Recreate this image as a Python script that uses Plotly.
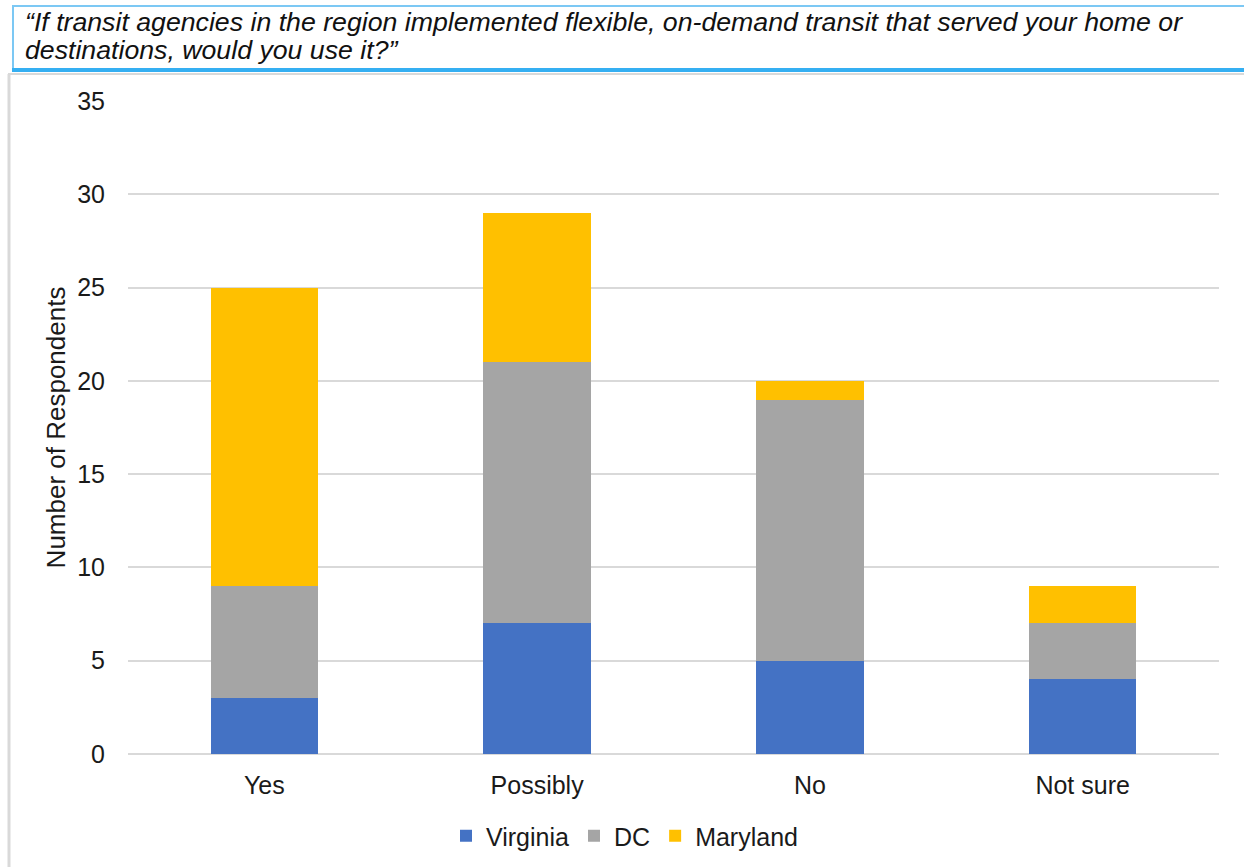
import plotly.graph_objects as go

# Survey responses by jurisdiction
categories = ["Yes", "Possibly", "No", "Not sure"]
virginia = [3, 7, 5, 4]
dc = [6, 14, 14, 3]
maryland = [16, 8, 1, 2]

series = [
    ("Virginia", virginia, "#4472C4"),
    ("DC", dc, "#A5A5A5"),
    ("Maryland", maryland, "#FFC000"),
]

question_lines = [
    "<i>“If transit agencies in the region implemented flexible, on-demand transit that served your home or</i>",
    "<i>destinations, would you use it?”</i>",
]

W, H = 1244, 867
L, R, T, B = 128, 25, 101, 113
PW, PH = W - L - R, H - T - B


def px(x):
    return (x - L) / PW


def py(y):
    return (H - B - y) / PH


fig = go.Figure()
for name, vals, color in series:
    fig.add_trace(go.Bar(name=name, x=categories, y=vals, marker_color=color,
                         marker_line_width=0))

FONT = "Liberation Sans, Arial, sans-serif"

fig.update_layout(
    width=W, height=H,
    margin=dict(l=L, r=R, t=T, b=B, autoexpand=False),
    barmode="stack",
    bargap=0.605,
    plot_bgcolor="white",
    paper_bgcolor="white",
    font=dict(family=FONT, size=25, color="#1a1a1a"),
    showlegend=True,
    legend=dict(orientation="h", x=px(446), xanchor="left", y=py(836), yanchor="middle",
                font=dict(size=25, color="#1a1a1a"), itemwidth=30, tracegroupgap=0,
                traceorder="normal"),
    xaxis=dict(showgrid=False, showline=False, ticks="", ticklabelstandoff=14,
               tickfont=dict(size=25)),
    yaxis=dict(range=[0, 35], dtick=5, showgrid=True, gridcolor="#D9D9D9", gridwidth=2,
               zeroline=True, zerolinecolor="#D9D9D9", zerolinewidth=2,
               showline=False, ticks="", ticklabelstandoff=22,
               tickfont=dict(size=25),
               title=dict(text="Number of Respondents", font=dict(size=26), standoff=4)),
)

shapes = [
    # question box
    dict(type="rect", xref="paper", yref="paper", x0=px(13), x1=px(1260), y0=py(70), y1=py(6),
         line=dict(color="#7CC8F4", width=2), fillcolor="white", layer="below"),
    dict(type="line", xref="paper", yref="paper", x0=px(12), x1=px(1260), y0=py(70), y1=py(70),
         line=dict(color="#35AFF2", width=4)),
    # chart frame
    dict(type="line", xref="paper", yref="paper", x0=px(9), x1=px(9), y0=py(74), y1=py(880),
         line=dict(color="#D9D9D9", width=3)),
    dict(type="line", xref="paper", yref="paper", x0=px(8), x1=px(1260), y0=py(74), y1=py(74),
         line=dict(color="#D9D9D9", width=2)),
]
fig.update_layout(shapes=shapes)

for text, yc in zip(question_lines, [22, 50]):
    fig.add_annotation(text=text, xref="paper", yref="paper", x=px(23), y=py(yc),
                       xanchor="left", yanchor="middle", align="left", showarrow=False,
                       font=dict(family=FONT, size=26.7, color="#111111"))

fig.write_html("out.html")
